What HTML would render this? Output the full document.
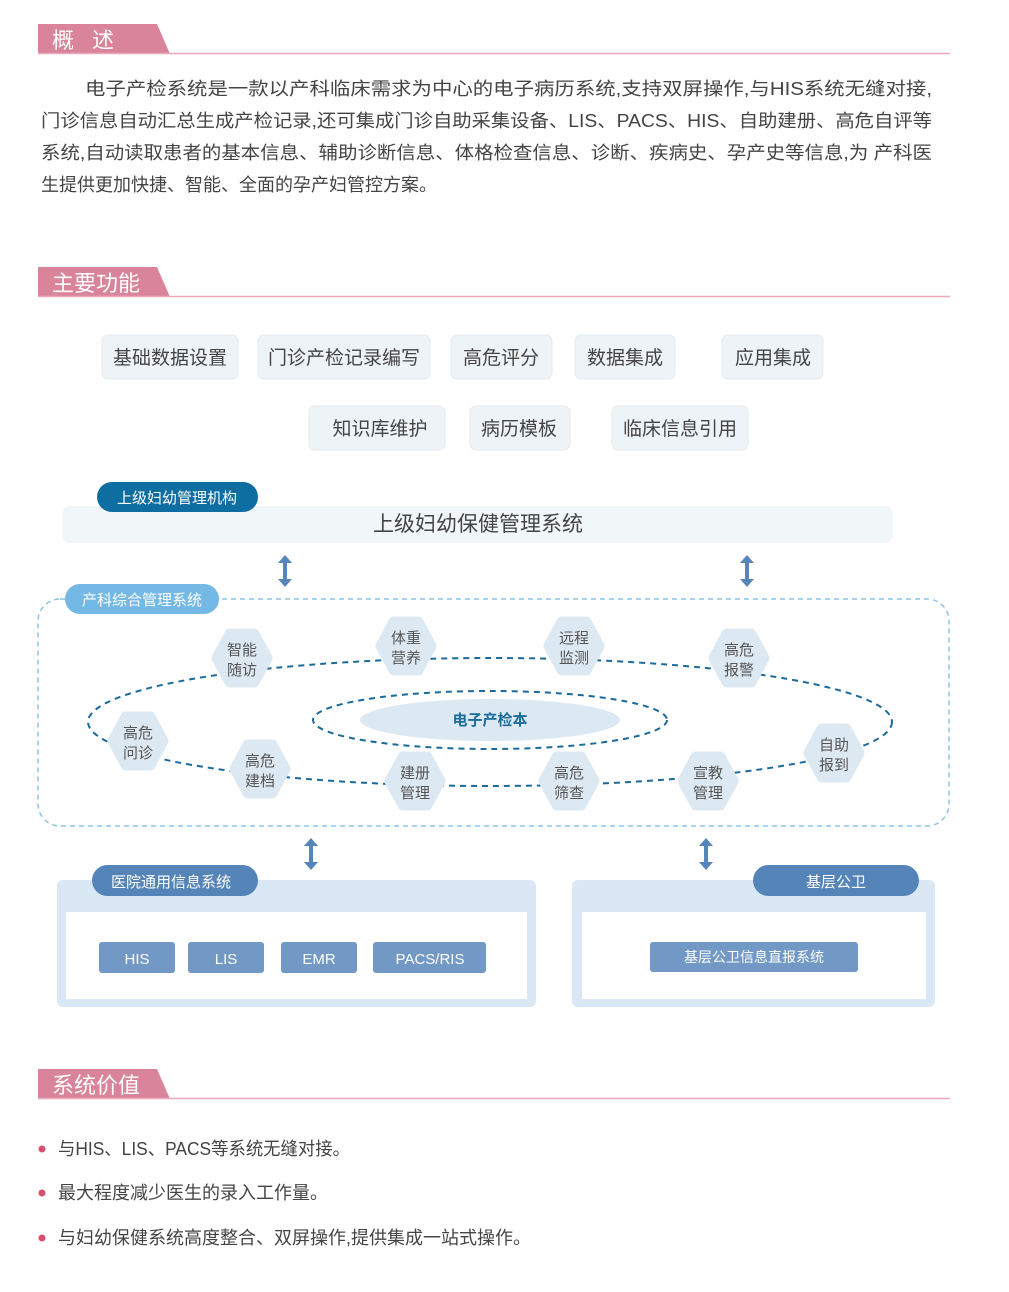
<!DOCTYPE html>
<html><head><meta charset="utf-8"><style>
body{margin:0;background:#fff;}
svg{display:block;font-family:"Liberation Sans","Noto Sans CJK SC",sans-serif;}
</style></head><body>
<svg width="1009" height="1292" viewBox="0 0 1009 1292" xmlns="http://www.w3.org/2000/svg">
<defs>
<g id="hx"><polygon points="-25,0 -12,-24 12,-24 25,0 12,24 -12,24" fill="#dde9f2" stroke="#dde9f2" stroke-width="11" stroke-linejoin="round"/></g>
<g id="ar"><line x1="0" y1="-9" x2="0" y2="9" stroke="#5585b9" stroke-width="4"/><polygon points="-7,-8 0,-16 7,-8" fill="#5585b9"/><polygon points="-7,8 0,16 7,8" fill="#5585b9"/></g>
</defs>
<g>
<polygon points="38,24 157,24 170,54 38,54" fill="#d9849a"/>
<line x1="38" y1="53.5" x2="950" y2="53.5" stroke="#eaaabb" stroke-width="1.5"/>
<text x="52" y="48" font-size="22" fill="#fff">概</text><text x="92" y="48" font-size="22" fill="#fff">述</text>
<polygon points="38,267 157,267 170,297 38,297" fill="#d9849a"/>
<line x1="38" y1="296.5" x2="950" y2="296.5" stroke="#eaaabb" stroke-width="1.5"/>
<text x="52" y="291" font-size="22" fill="#fff">主要功能</text>
<polygon points="38,1069 157,1069 170,1099 38,1099" fill="#d9849a"/>
<line x1="38" y1="1098.5" x2="950" y2="1098.5" stroke="#eaaabb" stroke-width="1.5"/>
<text x="52" y="1093" font-size="22" fill="#fff">系统价值</text>
</g>
<g font-size="18" fill="#444">
<text x="85" y="95" textLength="847" lengthAdjust="spacingAndGlyphs">电子产检系统是一款以产科临床需求为中心的电子病历系统,支持双屏操作,与HIS系统无缝对接,</text>
<text x="41" y="127" textLength="891" lengthAdjust="spacingAndGlyphs">门诊信息自动汇总生成产检记录,还可集成门诊自助采集设备、LIS、PACS、HIS、自助建册、高危自评等</text>
<text x="41" y="159" textLength="891" lengthAdjust="spacingAndGlyphs">系统,自动读取患者的基本信息、辅助诊断信息、体格检查信息、诊断、疾病史、孕产史等信息,为  产科医</text>
<text x="41" y="191">生提供更加快捷、智能、全面的孕产妇管控方案。</text>
</g>
<g fill="#eef3f8" stroke="#e3ebf2">
<rect x="102" y="335" width="136" height="44" rx="6"/>
<rect x="258" y="335" width="172" height="44" rx="6"/>
<rect x="451" y="335" width="101" height="44" rx="6"/>
<rect x="575" y="335" width="100" height="44" rx="6"/>
<rect x="722" y="335" width="101" height="44" rx="6"/>
<rect x="309" y="406" width="136" height="44" rx="6"/>
<rect x="470" y="406" width="100" height="44" rx="6"/>
<rect x="612" y="406" width="136" height="44" rx="6"/>
</g>
<g font-size="19" fill="#444" text-anchor="middle">
<text x="170" y="364">基础数据设置</text>
<text x="344" y="364">门诊产检记录编写</text>
<text x="501" y="364">高危评分</text>
<text x="625" y="364">数据集成</text>
<text x="773" y="364">应用集成</text>
<text x="380" y="435">知识库维护</text>
<text x="519" y="435">病历模板</text>
<text x="680" y="435">临床信息引用</text>
</g>
<rect x="62" y="506" width="831" height="37" rx="8" fill="#f1f6f9"/>
<text x="478" y="531" font-size="21" fill="#444" text-anchor="middle">上级妇幼保健管理系统</text>
<rect x="97" y="482" width="161" height="30" rx="15" fill="#0e6ea1"/>
<text x="177" y="503" font-size="15" fill="#fff" text-anchor="middle">上级妇幼管理机构</text>
<use href="#ar" x="285" y="571"/>
<use href="#ar" x="747" y="571"/>
<use href="#ar" x="311" y="854"/>
<use href="#ar" x="706" y="854"/>
<rect x="38" y="599" width="911" height="227" rx="22" fill="none" stroke="#8cc4e8" stroke-width="1.5" stroke-dasharray="5,4"/>
<rect x="65" y="584" width="154" height="30" rx="15" fill="#74b9e6"/>
<text x="142" y="605" font-size="15" fill="#fff" text-anchor="middle">产科综合管理系统</text>
<ellipse cx="490" cy="722" rx="402" ry="64" fill="none" stroke="#1a6a9a" stroke-width="2" stroke-dasharray="6,5"/>
<ellipse cx="490" cy="720" rx="177" ry="29" fill="none" stroke="#1a6a9a" stroke-width="2" stroke-dasharray="6,5"/>
<ellipse cx="490" cy="720" rx="130" ry="21" fill="#dce9f2"/>
<text x="490" y="725" font-size="15" font-weight="bold" fill="#1a6a9a" text-anchor="middle">电子产检本</text>
<g font-size="15" fill="#555" text-anchor="middle">
<use href="#hx" x="242" y="658"/><text x="242" y="655">智能</text><text x="242" y="675">随访</text>
<use href="#hx" x="406" y="646"/><text x="406" y="643">体重</text><text x="406" y="663">营养</text>
<use href="#hx" x="574" y="646"/><text x="574" y="643">远程</text><text x="574" y="663">监测</text>
<use href="#hx" x="739" y="658"/><text x="739" y="655">高危</text><text x="739" y="675">报警</text>
<use href="#hx" x="138" y="741"/><text x="138" y="738">高危</text><text x="138" y="758">问诊</text>
<use href="#hx" x="260" y="769"/><text x="260" y="766">高危</text><text x="260" y="786">建档</text>
<use href="#hx" x="415" y="781"/><text x="415" y="778">建册</text><text x="415" y="798">管理</text>
<use href="#hx" x="569" y="781"/><text x="569" y="778">高危</text><text x="569" y="798">筛查</text>
<use href="#hx" x="708" y="781"/><text x="708" y="778">宣教</text><text x="708" y="798">管理</text>
<use href="#hx" x="834" y="753"/><text x="834" y="750">自助</text><text x="834" y="770">报到</text>
</g>
<rect x="57" y="880" width="479" height="127" rx="6" fill="#dae8f6"/>
<rect x="66" y="912" width="461" height="87" fill="#fff"/>
<rect x="92" y="865" width="166" height="31" rx="15.5" fill="#5584b8"/>
<text x="171" y="887" font-size="15" fill="#fff" text-anchor="middle">医院通用信息系统</text>
<g fill="#7299c5">
<rect x="99" y="942" width="76" height="31" rx="3"/>
<rect x="188" y="942" width="76" height="31" rx="3"/>
<rect x="281" y="942" width="76" height="31" rx="3"/>
<rect x="373" y="942" width="113" height="31" rx="3"/>
</g>
<g font-size="15" fill="#fff" text-anchor="middle">
<text x="137" y="964">HIS</text><text x="226" y="964">LIS</text><text x="319" y="964">EMR</text><text x="430" y="964">PACS/RIS</text>
</g>
<rect x="572" y="880" width="363" height="127" rx="6" fill="#dae8f6"/>
<rect x="582" y="912" width="344" height="87" fill="#fff"/>
<rect x="753" y="865" width="166" height="31" rx="15.5" fill="#5584b8"/>
<text x="836" y="887" font-size="15" fill="#fff" text-anchor="middle">基层公卫</text>
<rect x="650" y="942" width="208" height="30" rx="3" fill="#7299c5"/>
<text x="754" y="962" font-size="14" fill="#fff" text-anchor="middle">基层公卫信息直报系统</text>
<g fill="#d9506f"><circle cx="42" cy="1149" r="3.5"/><circle cx="42" cy="1193" r="3.5"/><circle cx="42" cy="1238" r="3.5"/></g>
<g font-size="18" fill="#444">
<text x="58" y="1155" textLength="292" lengthAdjust="spacingAndGlyphs">与HIS、LIS、PACS等系统无缝对接。</text>
<text x="58" y="1199">最大程度减少医生的录入工作量。</text>
<text x="58" y="1244">与妇幼保健系统高度整合、双屏操作,提供集成一站式操作。</text>
</g>
</svg>
</body></html>
